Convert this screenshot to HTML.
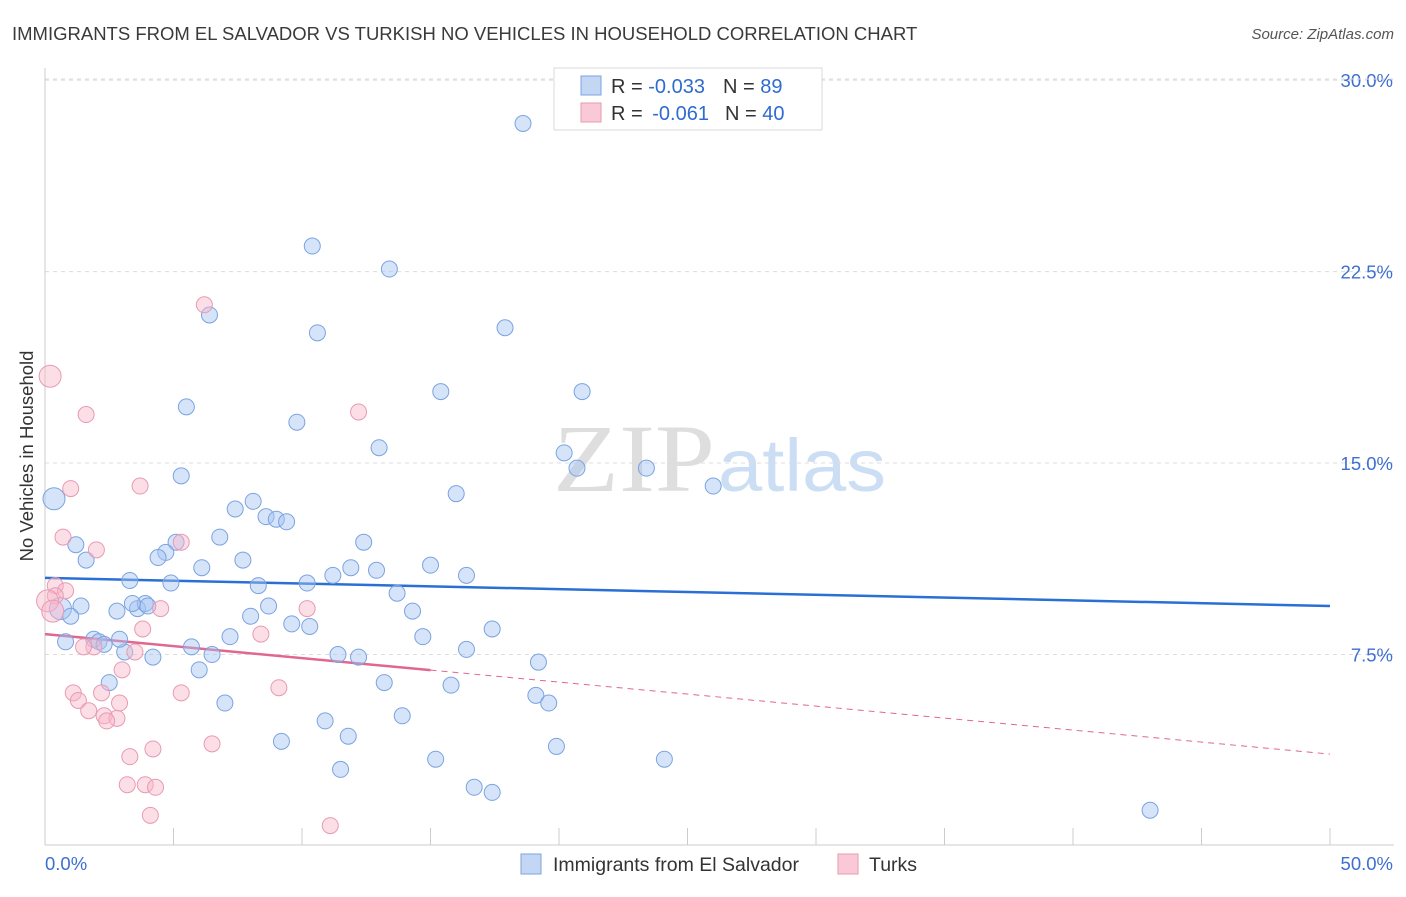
<!DOCTYPE html>
<html><head><meta charset="utf-8"><style>
body{margin:0;background:#fff;font-family:"Liberation Sans",sans-serif}
</style></head><body>
<svg id="chart" width="1406" height="892" xmlns="http://www.w3.org/2000/svg" font-family="Liberation Sans, sans-serif">
<text x="12" y="40" font-size="18.5" fill="#3a3a3a">IMMIGRANTS FROM EL SALVADOR VS TURKISH NO VEHICLES IN HOUSEHOLD CORRELATION CHART</text>
<text x="1394" y="39" font-size="15" fill="#555" font-style="italic" text-anchor="end">Source: ZipAtlas.com</text>
<g>
<text x="553" y="491" font-size="96" fill="#d4d4d4" style="font-family:'Liberation Serif',serif" textLength="162" lengthAdjust="spacingAndGlyphs" opacity="0.75">ZIP</text>
<text x="718" y="491" font-size="74" fill="#bcd3f0" textLength="168" lengthAdjust="spacingAndGlyphs" opacity="0.75">atlas</text>
</g>
<g id="grid"></g>
<g id="axes"></g>
<g id="lines"></g>
<g id="points"></g>
<text transform="translate(33,456) rotate(-90)" font-size="18.5" fill="#333" text-anchor="middle">No Vehicles in Household</text>
<g>
<rect x="554" y="68" width="268" height="62" fill="#fff" stroke="#d8d8d8"/>
<rect x="581" y="76" width="20" height="19" fill="#c3d7f5" stroke="#7ba3e0"/>
<text x="611" y="93" font-size="20" fill="#333">R = <tspan fill="#2f6bd0">-0.033</tspan><tspan dx="18">N = </tspan><tspan fill="#2f6bd0">89</tspan></text>
<rect x="581" y="103" width="20" height="19" fill="#f9c9d7" stroke="#e89ab3"/>
<text x="611" y="120" font-size="20" fill="#333">R = <tspan dx="4" fill="#2f6bd0">-0.061</tspan><tspan dx="16">N = </tspan><tspan fill="#2f6bd0">40</tspan></text>
</g>
<g>
<rect x="521" y="854" width="20" height="20" fill="#c3d7f5" stroke="#7ba3e0"/>
<text x="553" y="871" font-size="19.5" fill="#333">Immigrants from El Salvador</text>
<rect x="838" y="854" width="20" height="20" fill="#f9c9d7" stroke="#e89ab3"/>
<text x="869" y="871" font-size="19.5" fill="#333">Turks</text>
</g>
</svg>
<script>
const yTicks=[7.5,15,22.5,30];
const yTickLabels=["7.5%","15.0%","22.5%","30.0%"];
const xTickLabels=["0.0%","50.0%"];
const blueX=[18.6,10.4,13.4,6.4,10.6,17.9,15.4,20.9,5.5,9.8,13.0,20.2,20.7,23.4,5.3,26.0,16.0,0.35,8.1,7.4,8.6,9.0,9.4,6.8,5.1,1.2,12.4,4.7,4.4,7.7,1.6,15.0,6.1,11.9,12.9,11.2,16.4,3.3,4.9,8.3,10.2,13.7,0.6,1.4,2.8,3.6,3.9,4.0,8.7,14.3,8.0,1.0,9.6,10.3,17.4,14.7,7.2,1.9,2.1,2.3,0.8,5.7,3.1,4.2,6.5,11.4,12.2,16.4,19.2,6.0,2.5,13.2,15.8,19.1,19.6,7.0,13.9,10.9,11.8,9.2,19.9,15.2,24.1,11.5,16.7,17.4,43.0,3.4,2.9];
const blueY=[28.3,23.5,22.6,20.8,20.1,20.3,17.8,17.8,17.2,16.6,15.6,15.4,14.8,14.8,14.5,14.1,13.8,13.6,13.5,13.2,12.9,12.8,12.7,12.1,11.9,11.8,11.9,11.5,11.3,11.2,11.2,11.0,10.9,10.9,10.8,10.6,10.6,10.4,10.3,10.2,10.3,9.9,9.3,9.4,9.2,9.3,9.5,9.4,9.4,9.2,9.0,9.0,8.7,8.6,8.5,8.2,8.2,8.1,8.0,7.9,8.0,7.8,7.6,7.4,7.5,7.5,7.4,7.7,7.2,6.9,6.4,6.4,6.3,5.9,5.6,5.6,5.1,4.9,4.3,4.1,3.9,3.4,3.4,3.0,2.3,2.1,1.4,9.5,8.1];
const blueBig=[17,42];
const pinkX=[0.2,6.2,1.6,12.2,3.7,1.0,0.7,2.0,5.3,0.4,0.8,0.4,4.5,10.2,3.8,8.4,1.9,1.5,3.5,3.0,1.1,9.1,5.3,2.2,1.3,2.9,1.7,2.3,2.8,2.4,6.5,4.2,3.3,3.2,3.9,4.3,4.1,11.1,0.1,0.3];
const pinkY=[18.4,21.2,16.9,17.0,14.1,14.0,12.1,11.6,11.9,10.2,10.0,9.8,9.3,9.3,8.5,8.3,7.8,7.8,7.6,6.9,6.0,6.2,6.0,6.0,5.7,5.6,5.3,5.1,5.0,4.9,4.0,3.8,3.5,2.4,2.4,2.3,1.2,0.8,9.6,9.2];
const pinkBig=[0,38,39];
const blueTrend=[10.5,9.4];
const pinkTrend=[8.3,3.6];
const pinkSolidEnd=15;

const NS="http://www.w3.org/2000/svg";
const X0=45,X1=1330,Y0=846,PPY=25.53;
const sx=v=>X0+(v/50)*(X1-X0);
const sy=v=>Y0-v*PPY;
function mk(tag,attrs,parent){const e=document.createElementNS(NS,tag);for(const k in attrs)e.setAttribute(k,attrs[k]);document.getElementById(parent).appendChild(e);return e;}

yTicks.forEach((t,i)=>{
  const g=mk('line',{x1:X0,x2:1394,y1:sy(t),y2:sy(t),stroke:'#dcdcdc','stroke-dasharray':'4,4'},'grid');
  
  
  const l=mk('text',{x:1393,y:sy(t)+7,'font-size':18.5,fill:'#3d6fd1','text-anchor':'end'},'grid');
  l.textContent=yTickLabels[i];
  
  
});
const topLine=mk('line',{x1:X0,x2:1394,y1:79,y2:79,stroke:'#dcdcdc','stroke-dasharray':'4,4'},'grid');


const ya=mk('line',{x1:X0,x2:X0,y1:68,y2:845,stroke:'#ccc'},'axes');


const xa=mk('line',{x1:X0,x2:1394,y1:845,y2:845,stroke:'#ccc'},'axes');


for(let i=1;i<=10;i++){
  const t=mk('line',{x1:sx(i*5),x2:sx(i*5),y1:828,y2:845,stroke:'#ccc'},'axes');
  
  
}
const xl0=mk('text',{x:45,y:870,'font-size':18.5,fill:'#3d6fd1'},'axes');
xl0.textContent=xTickLabels[0];


const xl1=mk('text',{x:1393,y:870,'font-size':18.5,fill:'#3d6fd1','text-anchor':'end'},'axes');
xl1.textContent=xTickLabels[1];



blueX.forEach((x,i)=>{
  const c=mk('circle',{cx:sx(x),cy:sy(blueY[i]),r:blueBig.includes(i)?11:8,fill:'rgba(164,196,242,0.45)',stroke:'#7ba3e0','stroke-width':1},'points');
  
  
});
pinkX.forEach((x,i)=>{
  const c=mk('circle',{cx:sx(x),cy:sy(pinkY[i]),r:pinkBig.includes(i)?11:8,fill:'rgba(248,182,202,0.45)',stroke:'#e89ab3','stroke-width':1},'points');
  
  
});
const bl=mk('line',{x1:sx(0),y1:sy(blueTrend[0]),x2:sx(50),y2:sy(blueTrend[1]),stroke:'#2a6fd6','stroke-width':2.5},'lines');


const pAt=x=>pinkTrend[0]+(pinkTrend[1]-pinkTrend[0])*x/50;
const pl=mk('line',{x1:sx(0),y1:sy(pAt(0)),x2:sx(pinkSolidEnd),y2:sy(pAt(pinkSolidEnd)),stroke:'#e0678f','stroke-width':2.5},'lines');


const pd=mk('line',{x1:sx(pinkSolidEnd),y1:sy(pAt(pinkSolidEnd)),x2:sx(50),y2:sy(pAt(50)),stroke:'#e0678f','stroke-width':1,'stroke-dasharray':'6,5'},'lines');


</script>
</body></html>
